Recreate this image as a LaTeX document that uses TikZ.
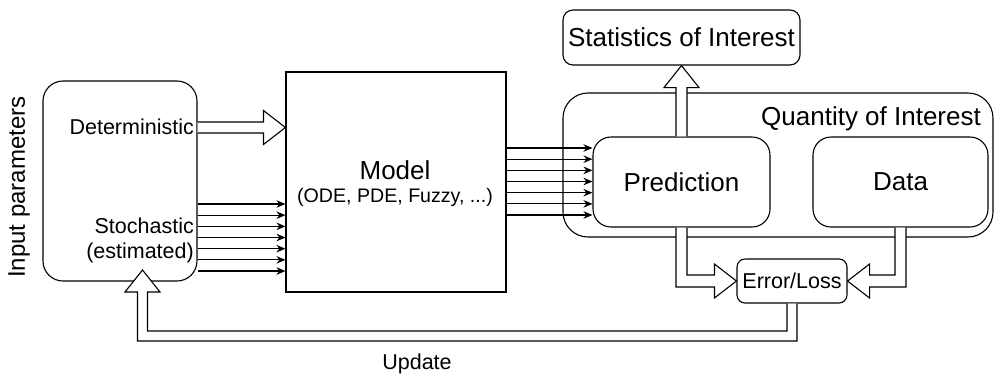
\documentclass[tikz,border=0pt]{standalone}
\usepackage{fontspec}
\setmainfont{Liberation Sans}
\usetikzlibrary{calc,arrows.meta}
\newcommand\szA{\fontsize{26pt}{30pt}\selectfont}
\newcommand\szB{\fontsize{21.5pt}{25pt}\selectfont}
\newcommand\szC{\fontsize{19.6pt}{23pt}\selectfont}
\newcommand\szD{\fontsize{24pt}{28pt}\selectfont}
\begin{document}
\begin{tikzpicture}[x=1pt,y=-1pt,
  base/.style={draw=black, line width=1.1pt},
  rbox/.style={base, rounded corners=#1, inner sep=0pt, align=center},
  sqbox/.style={base, inner sep=0pt, align=center},
  txt/.style={inner sep=0pt, align=center},
  thinarrow/.style={line width=1.1pt, -{Stealth[length=9pt,width=7.5pt]}},
  hollow/.style={base, fill=white, line join=miter}
]
\useasboundingbox (0,0) rectangle (995,376);

% boxes
\node[rbox=20pt, minimum width=154pt, minimum height=200pt] (inp) at (120,181) {};
\node[sqbox, minimum width=220pt, minimum height=220pt] (model) at (396,182) {};
\node[rbox=25pt, minimum width=430pt, minimum height=144pt] (qoi) at (778,165) {};
\node[rbox=18pt, minimum width=177pt, minimum height=90pt] (pred) at (681.5,182) {\szA Prediction};
\node[rbox=18pt, minimum width=175pt, minimum height=90pt] (data) at (900.5,182) {\szA Data};
\node[rbox=10pt, minimum width=237pt, minimum height=55pt] (stats) at (681.5,37.5) {\szA Statistics of Interest};
\node[rbox=8pt, minimum width=110pt, minimum height=44pt] (err) at (792,281) {\szB Error/Loss};

% texts
\node[txt, rotate=90] (inlabel) at (19,187) {\szD Input parameters};
\node[txt, anchor=east] (det) at (194,126.5) {\szB Deterministic};
\node[txt, anchor=base east] (sto) at (194,233) {\szB Stochastic};
\node[txt, anchor=base east] (sto2) at (194,258) {\szB (estimated)};
\node[txt] (qlabel) at (871,119) {\szA Quantity of Interest};
\node[txt] (mlabel) at ($(model.center)+(-1,-12)$) {\szA Model};
\node[txt] (mlabel2) at ($(model.center)+(-1,15)$) {\szC (ODE, PDE, Fuzzy, ...)};
\node[txt] (ulabel) at (417,364) {\szB Update};

% thin arrows in
\foreach \i in {0,...,6}{
  \pgfmathsetmacro\yy{204+11.17*\i}
  \draw[thinarrow] (inp.east |- 0,\yy) -- (model.west |- 0,\yy);
}
% thin arrows out
\foreach \i in {0,...,6}{
  \pgfmathsetmacro\yy{148+11.17*\i}
  \draw[thinarrow] (model.east |- 0,\yy) -- (pred.west |- 0,\yy);
}

% deterministic hollow arrow
\coordinate (dA) at (inp.east |- 0,127.5);
\coordinate (dB) at (model.west |- 0,127.5);
\draw[hollow] ($(dA)+(0,-5.5)$) -- ($(dB)+(-22,-5.5)$) -- ($(dB)+(-22,-17)$) -- (dB)
  -- ($(dB)+(-22,17)$) -- ($(dB)+(-22,5.5)$) -- ($(dA)+(0,5.5)$);

% prediction -> statistics
\draw[hollow] ($(pred.north)+(-5.5,0)$) -- ($(stats.south)+(-5.5,22)$) -- ($(stats.south)+(-17.5,22)$)
  -- (stats.south) -- ($(stats.south)+(17.5,22)$) -- ($(stats.south)+(5.5,22)$) -- ($(pred.north)+(5.5,0)$);

% prediction -> error
\coordinate (pe) at (pred.south |- err.west);
\draw[hollow] ($(pred.south)+(-5.5,0)$) -- ($(pe)+(-5.5,6)$) -- ($(err.west)+(-22,6)$)
  -- ($(err.west)+(-22,17)$) -- (err.west) -- ($(err.west)+(-22,-17)$) -- ($(err.west)+(-22,-6)$)
  -- ($(pe)+(5.5,-6)$) -- ($(pred.south)+(5.5,0)$);

% data -> error
\coordinate (de) at (data.south |- err.east);
\draw[hollow] ($(data.south)+(5.5,0)$) -- ($(de)+(5.5,6)$) -- ($(err.east)+(22,6)$)
  -- ($(err.east)+(22,17)$) -- (err.east) -- ($(err.east)+(22,-17)$) -- ($(err.east)+(22,-6)$)
  -- ($(de)+(-5.5,-6)$) -- ($(data.south)+(-5.5,0)$);

% update arrow
\coordinate (updtip) at (142.5,270);
\coordinate (ucorner) at (142.5,336);
\coordinate (ucorner2) at (err.south |- ucorner);
\draw[hollow] ($(err.south)+(-5,0)$) -- ($(ucorner2)+(-5,-5)$) -- ($(ucorner)+(5,-5)$)
  -- ($(updtip)+(5,22)$) -- ($(updtip)+(17.5,22)$) -- (updtip) -- ($(updtip)+(-17.5,22)$)
  -- ($(updtip)+(-5,22)$) -- ($(ucorner)+(-5,5)$) -- ($(ucorner2)+(5,5)$) -- ($(err.south)+(5,0)$);
\end{tikzpicture}
\end{document}
